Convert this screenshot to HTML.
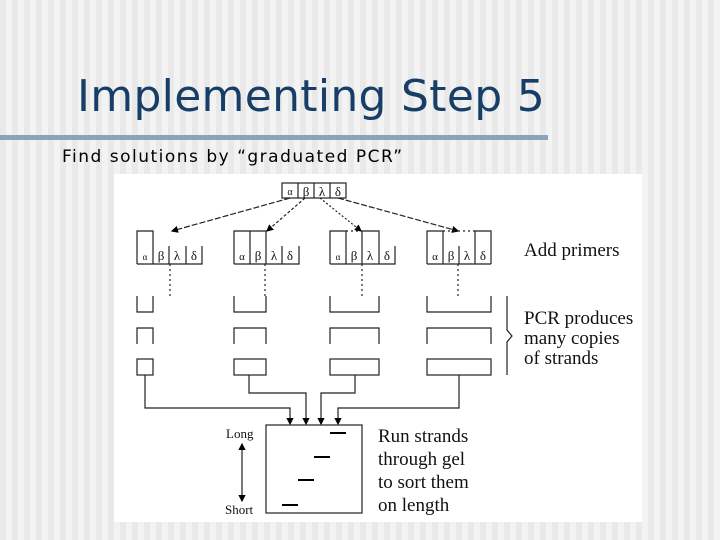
<!DOCTYPE html>
<html><head><style>
html,body{margin:0;padding:0}
body{width:720px;height:540px;position:relative;overflow:hidden;
background:repeating-linear-gradient(90deg,#e9e9e9 0 6px,#f3f3f3 6px 12px);}
.t{position:absolute;left:77px;top:71px;font-family:"DejaVu Sans",sans-serif;font-size:44px;color:#173e66;white-space:nowrap;letter-spacing:0.3px}
.bar{position:absolute;left:0;top:135px;width:548px;height:5px;background:#8ea3ba}
.s{position:absolute;left:62px;top:147px;font-family:"DejaVu Sans",sans-serif;font-size:17px;letter-spacing:1.5px;color:#000;white-space:nowrap}
</style></head><body>
<div class="t">Implementing Step 5</div>
<div class="bar"></div>
<div class="s">Find solutions by “graduated PCR”</div>
<svg style="position:absolute;left:0;top:0" width="720" height="540">
<defs><marker id="a" markerWidth="6" markerHeight="6" refX="5" refY="3" orient="auto-start-reverse"><path d="M0,0 L6,3 L0,6z" fill="#000"/></marker></defs>
<rect x="114" y="174" width="528" height="348" fill="#fff"/>
<g stroke="#222" stroke-width="1.2" fill="none">
<rect x="282" y="183" width="64" height="15"/><path d="M298,183V198M314,183V198M330,183V198"/>
<path d="M290,198L172,231" stroke-dasharray="6,2" marker-end="url(#a)"/>
<path d="M305,198L267,231" stroke-dasharray="3,2" marker-end="url(#a)"/>
<path d="M320,198L361,231" stroke-dasharray="2,2" marker-end="url(#a)"/>
<path d="M338,198L458,231" stroke-dasharray="6,2" marker-end="url(#a)"/>
<path d="M137,264V231H153V264M137,264H202V246M169,246V264M186,246V264"/>
<path d="M234,264V231H266V264M250,231V264M234,264H299V246M282,246V264"/>
<path d="M330,264V231H346V264M362,264V231H379V264M330,264H395V246M346,246V264"/>
<path d="M427,264V231H443V264M475,264V231H491V264M427,264H491M443,246V264M459,246V264"/>
<path d="M170,264V297M265,264V297M362,264V297M458,264V297M346,231H362M443,231H475" stroke-dasharray="2,3"/>
<path d="M137,296V312H153V296M234,296V312H266V296M330,296V312H379V296M427,296V312H491V296"/>
<path d="M137,344V328H153V344M234,344V328H266V344M330,344V328H379V344M427,344V328H491V344"/>
<rect x="137" y="359" width="16" height="16"/><rect x="234" y="359" width="32" height="16"/><rect x="330" y="359" width="49" height="16"/><rect x="427" y="359" width="64" height="16"/>
<path d="M507,296V330L512,336L507,342V375"/>
<path d="M145,375V408H290V424" marker-end="url(#a)"/>
<path d="M249,375V393H306V424" marker-end="url(#a)"/>
<path d="M355,375V393H321V424" marker-end="url(#a)"/>
<path d="M459,375V408H338V424" marker-end="url(#a)"/>
<rect x="266" y="425" width="96" height="88"/>
<path d="M242,444V501" marker-start="url(#a)" marker-end="url(#a)"/>
</g>
<g stroke="#000" stroke-width="2">
<path d="M330,433H346M314,457H330M298,480H314M282,505H298"/>
</g>
<g font-family="Liberation Serif,serif" fill="#111" font-size="13" text-anchor="middle">
<text x="145" y="260" font-size="9">α</text><text x="161" y="260">β</text><text x="177" y="260">λ</text><text x="194" y="260">δ</text>
<text x="242" y="260" font-size="11">α</text><text x="258" y="260">β</text><text x="274" y="260">λ</text><text x="290" y="260">δ</text>
<text x="338" y="260" font-size="9">α</text><text x="354" y="260">β</text><text x="370" y="260">λ</text><text x="387" y="260">δ</text>
<text x="435" y="260" font-size="11">α</text><text x="451" y="260">β</text><text x="467" y="260">λ</text><text x="483" y="260">δ</text>
<text x="290" y="195" font-size="10">α</text><text x="306" y="196">β</text><text x="322" y="196">λ</text><text x="338" y="196">δ</text>
</g>
<g font-family="Liberation Serif,serif" fill="#111">
<text x="524" y="256" font-size="19">Add primers</text>
<text x="524" y="324" font-size="19">PCR  produces</text>
<text x="524" y="344" font-size="19">many copies</text>
<text x="524" y="364" font-size="19">of strands</text>
<text x="226" y="438" font-size="13">Long</text>
<text x="225" y="514" font-size="13">Short</text>
<text x="378" y="442" font-size="19">Run strands</text>
<text x="378" y="465" font-size="19">through gel</text>
<text x="378" y="488" font-size="19">to sort them</text>
<text x="378" y="511" font-size="19">on length</text>
</g>
</svg>
</body></html>
